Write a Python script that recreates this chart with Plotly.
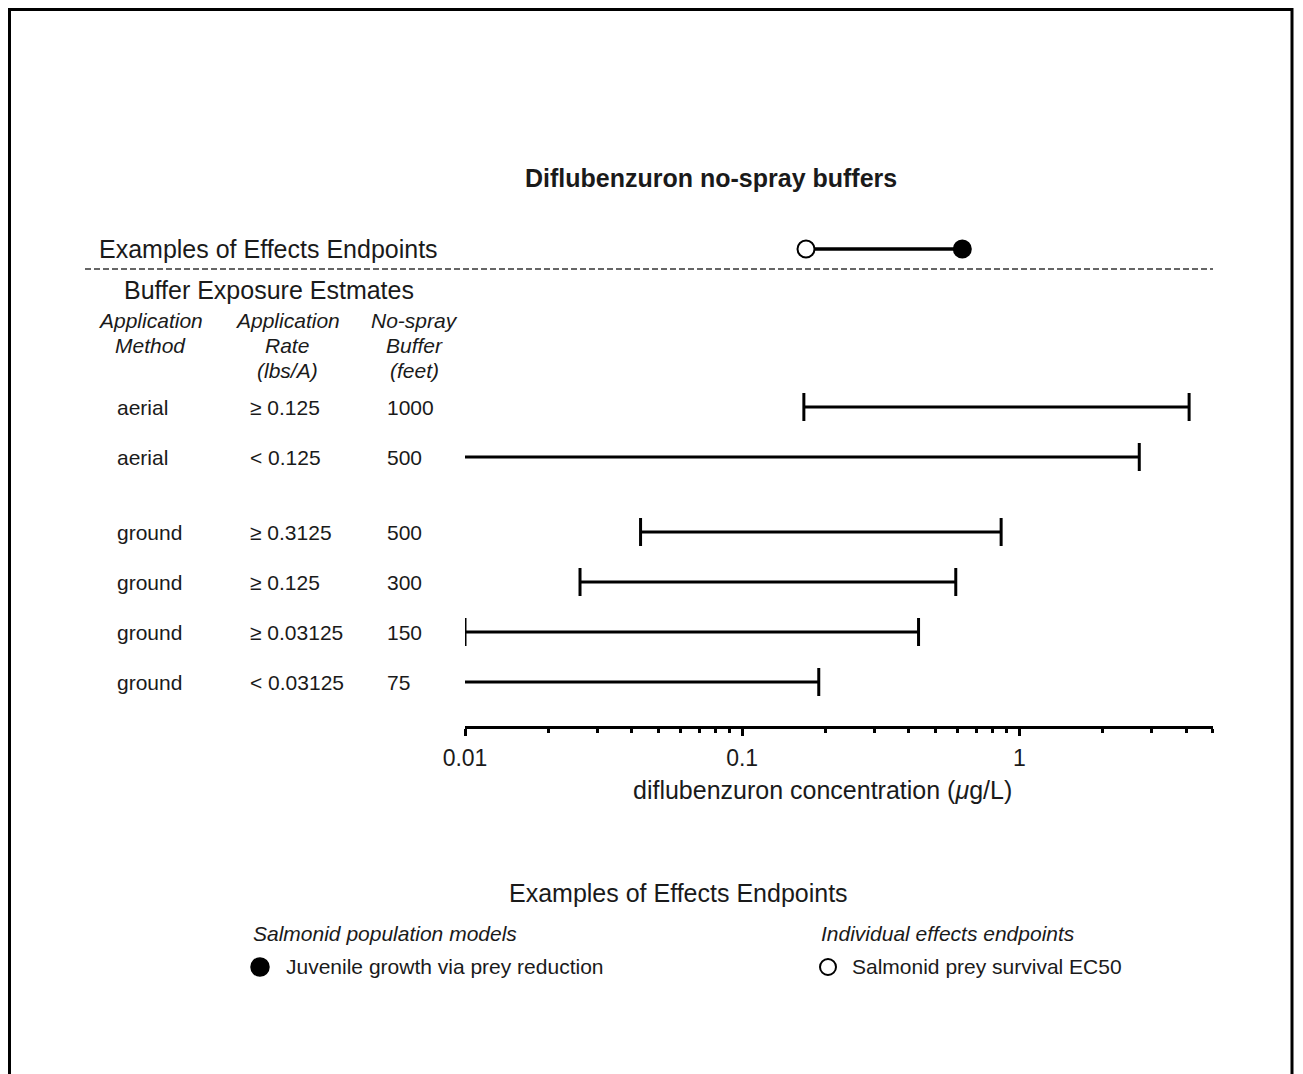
import plotly.graph_objects as go

# buffer exposure table (rows top to bottom)
methods = ['aerial', 'aerial', 'ground', 'ground', 'ground', 'ground']
rates = ['≥ 0.125', '< 0.125', '≥ 0.3125', '≥ 0.125', '≥ 0.03125', '< 0.03125']
buffers = ['1000', '500', '500', '300', '150', '75']

# exposure estimate ranges (ug/L); low_open = range runs below the axis minimum
lows = [0.167, 0.01, 0.043, 0.026, 0.01, 0.01]
highs = [4.1, 2.71, 0.86, 0.59, 0.433, 0.189]
low_open = [False, True, False, False, False, True]

# effects endpoints
ec50_prey = 0.170        # open circle
juvenile_growth = 0.623  # filled circle

tick_vals = [0.01, 0.1, 1]
tick_text = ['0.01', '0.1', '1']

# column headers, one list per column (line by line)
col_heads = [['Application', 'Method'], ['Application', 'Rate', '(lbs/A)'], ['No-spray', 'Buffer', '(feet)']]

W, H = 1287, 1074
OFF = 8  # page body margin
FONT = 'Liberation Sans, Arial, sans-serif'
INK = '#1a1a1a'


def px(x):
    return (x - OFF) / W


def py(y):
    return 1 - (y - OFF) / H


# row positions: one unit per row, extra half-row gap before the ground group
ypos = []
for i, m in enumerate(methods):
    ypos.append(i + (0.5 if m == 'ground' else 0))
y_end = -3.16

fig = go.Figure()

for i in range(len(methods)):
    fig.add_trace(go.Scatter(x=[lows[i], highs[i]], y=[ypos[i], ypos[i]], mode='lines',
                             line=dict(color='black', width=3), showlegend=False, hoverinfo='skip'))
    cap_x = [highs[i]] if low_open[i] else [lows[i], highs[i]]
    fig.add_trace(go.Scatter(x=cap_x, y=[ypos[i]] * len(cap_x), mode='markers',
                             marker=dict(symbol='line-ns', size=20, line=dict(color='black', width=3)),
                             showlegend=False, hoverinfo='skip'))

fig.add_trace(go.Scatter(x=[ec50_prey, juvenile_growth], y=[y_end, y_end], mode='lines+markers',
                         line=dict(color='black', width=3.5),
                         marker=dict(size=17, color=['white', 'black'], line=dict(color='black', width=2)),
                         showlegend=False, hoverinfo='skip'))

minor_vals = [m * d for d in [0.01, 0.1, 1] for m in range(2, 10) if m * d <= 5.0001]

fig.update_xaxes(type='log', range=[-2, 0.699], domain=[px(465), px(1213)],
                 showgrid=False, zeroline=False, showline=True, linecolor='black', linewidth=2.5,
                 ticks='outside', ticklen=7, tickwidth=2.5, tickcolor='black',
                 tickvals=tick_vals, ticktext=tick_text, ticklabelstandoff=3,
                 tickfont=dict(family=FONT, size=23, color=INK),
                 minor=dict(tickvals=minor_vals, ticks='outside', ticklen=4, tickwidth=2.5, tickcolor='black'))
fig.update_yaxes(range=[6.38, -3.74], domain=[py(726), py(220)], visible=False)

ann = []
ann.append(dict(text='<b>Diflubenzuron no-spray buffers</b>', x=px(711), y=py(178), font=dict(size=25)))
ann.append(dict(text='Examples of Effects Endpoints', x=px(97), y=y_end, yref='y', xanchor='left', font=dict(size=25)))
ann.append(dict(text='Buffer Exposure Estmates', x=px(122), y=py(290), xanchor='left', font=dict(size=25)))
for cx, lines in zip([150, 287, 414], col_heads):
    for k, t in enumerate(lines):
        ann.append(dict(text='<i>' + t + '</i>', x=px(cx), y=py(320 + 25 * k), font=dict(size=21)))
for i in range(len(methods)):
    ann.append(dict(text=methods[i], x=px(115), y=ypos[i], yref='y', xanchor='left', font=dict(size=21)))
    ann.append(dict(text=rates[i], x=px(248), y=ypos[i], yref='y', xanchor='left', font=dict(size=21)))
    ann.append(dict(text=buffers[i], x=px(385), y=ypos[i], yref='y', xanchor='left', font=dict(size=21)))
ann.append(dict(text='diflubenzuron concentration (<i>μ</i>g/L)', x=px(822), y=py(790), font=dict(size=25)))

# legend block
ann.append(dict(text='Examples of Effects Endpoints', x=px(678), y=py(893), font=dict(size=25)))
ann.append(dict(text='<i>Salmonid population models</i>', x=px(251), y=py(933), xanchor='left', font=dict(size=21)))
ann.append(dict(text='<i>Individual effects endpoints</i>', x=px(819), y=py(933), xanchor='left', font=dict(size=21)))
ann.append(dict(text='Juvenile growth via prey reduction', x=px(284), y=py(966), xanchor='left', font=dict(size=21)))
ann.append(dict(text='Salmonid prey survival EC50', x=px(850), y=py(966), xanchor='left', font=dict(size=21)))

for a in ann:
    a.setdefault('xref', 'paper')
    a.setdefault('yref', 'paper')
    a.setdefault('xanchor', 'center')
    a.setdefault('yanchor', 'middle')
    a['showarrow'] = False
    a['font'] = dict(family=FONT, color=INK, size=a['font']['size'])
fig.update_layout(annotations=ann)

shapes = [
    dict(type='rect', xref='paper', yref='paper', x0=px(9.5), x1=px(1292), y0=-0.05, y1=py(9.5),
         line=dict(color='black', width=3)),
    dict(type='line', xref='paper', yref='y', x0=px(85), x1=px(1213), y0=-2.76, y1=-2.76,
         line=dict(color='#666666', width=2, dash='6px,3px')),
    dict(type='circle', xref='paper', yref='paper', x0=px(251), x1=px(269), y0=py(976), y1=py(958),
         fillcolor='black', line=dict(color='black', width=1.5)),
    dict(type='circle', xref='paper', yref='paper', x0=px(820), x1=px(836), y0=py(975), y1=py(959),
         fillcolor='white', line=dict(color='black', width=2)),
]
fig.update_layout(shapes=shapes)

fig.update_layout(width=W, height=H, margin=dict(l=0, r=0, t=0, b=0, autoexpand=False),
                  paper_bgcolor='white', plot_bgcolor='white',
                  font=dict(family=FONT, color=INK))

fig.write_html('out.html')
